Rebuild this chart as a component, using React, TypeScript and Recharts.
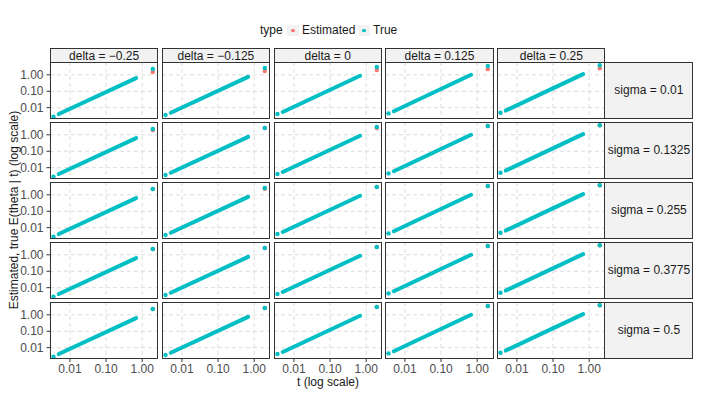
import React from "react";
import {
  ComposedChart,
  CartesianGrid,
  XAxis,
  YAxis,
  Line,
  Scatter,
} from "recharts";

// facet labels
const deltas = ["\u22120.25", "\u22120.125", "0", "0.125", "0.25"];
const sigmas = ["0.01", "0.1325", "0.255", "0.3775", "0.5"];

// t positions (shared by every panel)
const firstT = 0.0035;
const lineStartT = 0.0049;
const lineEndT = 0.68;
const outlierT = 1.97;

// values per delta column
const firstY = [0.0028, 0.0036, 0.0041, 0.0045, 0.0049];
const lineStartY = [0.0041, 0.0049, 0.0055, 0.0061, 0.0067];
const lineEndY = [0.63, 0.75, 0.87, 1.0, 1.1];
const outlierY = [2.24, 2.58, 2.97, 3.4, 3.8];

// estimated value of the last point, per sigma row
const estimatedOutlier = [
  [1.47, 1.7, 1.95, 2.2, 2.5],
  [1.95, 2.58, 2.55, 3.4, 3.8],
  [2.24, 2.35, 2.97, 3.4, 3.8],
  [2.24, 2.58, 2.97, 3.4, 3.8],
  [2.24, 2.58, 2.97, 3.4, 3.8],
];

const xTicks = [0.01, 0.1, 1];
const yTicks = [0.01, 0.1, 1];

const EST = "#F8766D";
const TRUE = "#00BFC4";
const FONT = '"Liberation Sans", Arial, Helvetica, sans-serif';
const BORDER = "#333333";

const PW = 108.2;
const PH = 56.5;
const colX = (i: number) => 50 + i * 111.8;
const rowY = (j: number) => 62 + j * 60;

const dot = (color: string) => (p: any) => (
  <circle cx={p.cx} cy={p.cy} r={2.2} fill={color} />
);

// keeps the ticks (and so the grid) but draws no label
const noTick = () => <g />;

function Panel({ row, col }: { row: number; col: number }) {
  const isLeft = col === 0;
  const isBottom = row === 4;
  const yW = isLeft ? 50 : 0;
  const xH = isBottom ? 24 : 0;

  const lineData = [
    { t: lineStartT, y: lineStartY[col] },
    { t: lineEndT, y: lineEndY[col] },
  ];
  const trueDots = [
    { t: firstT, y: firstY[col] },
    { t: outlierT, y: outlierY[col] },
  ];
  const estDots = [{ t: outlierT, y: estimatedOutlier[row][col] }];
  const tickStyle = { fill: "#4D4D4D", fontSize: 12, fontFamily: FONT };

  return (
    <div style={{ position: "absolute", left: colX(col) - yW, top: rowY(row) }}>
      <ComposedChart
        width={PW + yW}
        height={PH + xH}
        margin={{ top: 0, right: 0, bottom: 0, left: 0 }}
      >
        <CartesianGrid stroke="#DCDCDC" strokeDasharray="4 3" />
        <XAxis
          type="number"
          dataKey="t"
          scale="log"
          domain={[0.0028, 2.78]}
          ticks={xTicks}
          interval={0}
          allowDataOverflow
          height={xH}
          axisLine={false}
          tick={isBottom ? tickStyle : noTick}
          tickLine={isBottom ? { stroke: BORDER } : false}
          tickSize={3.5}
          tickMargin={2.5}
          tickFormatter={(v: number) => v.toFixed(2)}
        />
        <YAxis
          type="number"
          dataKey="y"
          scale="log"
          domain={[0.0022, 6.0]}
          ticks={yTicks}
          interval={0}
          allowDataOverflow
          width={yW}
          axisLine={false}
          tick={isLeft ? tickStyle : noTick}
          tickLine={isLeft ? { stroke: BORDER } : false}
          tickSize={3.5}
          tickMargin={3}
          tickFormatter={(v: number) => v.toFixed(2)}
        />
        <Scatter data={estDots} shape={dot(EST)} isAnimationActive={false} />
        <Line
          data={lineData}
          dataKey="y"
          type="linear"
          stroke={TRUE}
          strokeWidth={4}
          strokeLinecap="round"
          dot={false}
          isAnimationActive={false}
        />
        <Scatter data={trueDots} shape={dot(TRUE)} isAnimationActive={false} />
      </ComposedChart>
      <div
        style={{
          position: "absolute",
          left: yW,
          top: 0,
          width: PW,
          height: PH,
          border: `1.1px solid ${BORDER}`,
          boxSizing: "border-box",
          pointerEvents: "none",
        }}
      />
    </div>
  );
}

const stripText: React.CSSProperties = {
  position: "absolute",
  background: "#F2F2F2",
  border: `1.1px solid ${BORDER}`,
  boxSizing: "border-box",
  display: "flex",
  alignItems: "center",
  justifyContent: "center",
  fontSize: 12,
  color: "#1A1A1A",
  whiteSpace: "nowrap",
};

export default function App() {
  return (
    <div
      style={{
        position: "fixed",
        left: 0,
        top: 0,
        width: 706,
        height: 394,
        background: "#fff",
        fontFamily: FONT,
        overflow: "hidden",
      }}
    >
      {/* legend */}
      <div style={{ position: "absolute", left: 260, top: 22, fontSize: 12, color: "#1A1A1A", lineHeight: "16px" }}>
        type
      </div>
      {[
        { label: "Estimated", color: EST, x: 287 },
        { label: "True", color: TRUE, x: 358 },
      ].map((k) => (
        <React.Fragment key={k.label}>
          <div
            style={{
              position: "absolute",
              left: k.x,
              top: 25,
              width: 12,
              height: 11,
              background: "#F2F2F2",
            }}
          >
            <div
              style={{
                position: "absolute",
                left: 4.3,
                top: 3.8,
                width: 3.4,
                height: 3.4,
                borderRadius: "50%",
                background: k.color,
              }}
            />
          </div>
          <div
            style={{
              position: "absolute",
              left: k.x + 15,
              top: 22,
              fontSize: 12,
              color: "#1A1A1A",
              lineHeight: "16px",
            }}
          >
            {k.label}
          </div>
        </React.Fragment>
      ))}

      {/* column strips */}
      {deltas.map((d, i) => (
        <div
          key={d}
          style={{ ...stripText, left: colX(i), top: 48.3, width: PW, height: 15 }}
        >
          delta = {d}
        </div>
      ))}

      {/* row strips */}
      {sigmas.map((s, j) => (
        <div
          key={s}
          style={{ ...stripText, left: colX(4) + PW - 1, top: rowY(j), width: 89, height: PH }}
        >
          sigma = {s}
        </div>
      ))}

      {sigmas.map((_, row) =>
        deltas.map((__, col) => <Panel key={`${row}-${col}`} row={row} col={col} />)
      )}

      {/* axis titles */}
      <div
        style={{
          position: "absolute",
          left: 228,
          width: 200,
          top: 376,
          textAlign: "center",
          fontSize: 12,
          color: "#1A1A1A",
          lineHeight: "13px",
        }}
      >
        t (log scale)
      </div>
      <div
        style={{
          position: "absolute",
          left: 14 - 150,
          top: 210 - 8,
          width: 300,
          height: 16,
          lineHeight: "16px",
          textAlign: "center",
          fontSize: 12,
          color: "#1A1A1A",
          transform: "rotate(-90deg)",
          whiteSpace: "nowrap",
        }}
      >
        Estimated, true E(theta | t) (log scale)
      </div>
    </div>
  );
}
